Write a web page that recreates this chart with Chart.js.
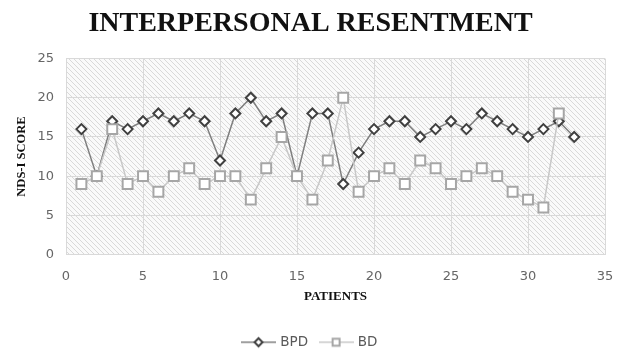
<!DOCTYPE html>
<html>
<head>
<meta charset="utf-8">
<script src="https://cdn.jsdelivr.net/npm/chart.js@4"></script>
<style>
  body { margin: 0; background: #fff; }
</style>
</head>
<body>
<canvas id="chart" width="621" height="351"></canvas>
<script>
// data
const patientsBPD = [1, 2, 3, 4, 5, 6, 7, 8, 9, 10, 11, 12, 13, 14, 15, 16, 17, 18, 19, 20, 21, 22, 23, 24, 25, 26, 27, 28, 29, 30, 31, 32, 33];
const bpdScores = [16, 10, 17, 16, 17, 18, 17, 18, 17, 12, 18, 20, 17, 18, 10, 18, 18, 9, 13, 16, 17, 17, 15, 16, 17, 16, 18, 17, 16, 15, 16, 17, 15];
const patientsBD = [1, 2, 3, 4, 5, 6, 7, 8, 9, 10, 11, 12, 13, 14, 15, 16, 17, 18, 19, 20, 21, 22, 23, 24, 25, 26, 27, 28, 29, 30, 31, 32];
const bdScores = [9, 10, 16, 9, 10, 8, 10, 11, 9, 10, 10, 7, 11, 15, 10, 7, 12, 20, 8, 10, 11, 9, 12, 11, 9, 10, 11, 10, 8, 7, 6, 18];
const xTicks = [0, 5, 10, 15, 20, 25, 30, 35];
const yTicks = [0, 5, 10, 15, 20, 25];

const serif = "'Liberation Serif', 'Times New Roman', serif";
const sans = "'DejaVu Sans', sans-serif";

// diagonal hatch for plot background
function makeHatch() {
    const c = document.createElement('canvas');
    c.width = 5; c.height = 5;
    const g = c.getContext('2d');
    g.fillStyle = '#fafafa';
    g.fillRect(0, 0, 5, 5);
    g.strokeStyle = '#d9d9d9';
    g.lineWidth = 1;
    g.beginPath();
    g.moveTo(-1, -1); g.lineTo(6, 6);
    g.moveTo(-1, 4); g.lineTo(1, 6);
    g.moveTo(4, -1); g.lineTo(6, 1);
    g.stroke();
    return c;
}

// legend symbol: short line with the marker on it
function legendIcon(kind, lineColor, markColor) {
    const c = document.createElement('canvas');
    c.width = 35; c.height = 14;
    const g = c.getContext('2d');
    g.strokeStyle = lineColor;
    g.lineWidth = 1.5;
    g.beginPath(); g.moveTo(0, 7); g.lineTo(35, 7); g.stroke();
    g.fillStyle = '#fff';
    g.strokeStyle = markColor;
    g.lineWidth = 2;
    g.beginPath();
    if (kind === 'diamond') {
        g.moveTo(17.5, 3); g.lineTo(21.5, 7); g.lineTo(17.5, 11); g.lineTo(13.5, 7); g.closePath();
    } else {
        g.rect(14, 3.5, 7, 7);
    }
    g.fill(); g.stroke();
    return c;
}

const hatchPlugin = {
    id: 'hatch',
    beforeDraw(chart) {
        const a = chart.chartArea;
        const ctx = chart.ctx;
        ctx.save();
        ctx.fillStyle = ctx.createPattern(makeHatch(), 'repeat');
        ctx.fillRect(a.left, a.top, a.right - a.left, a.bottom - a.top);
        ctx.restore();
    }
};

const icons = [
    legendIcon('diamond', '#7f7f7f', '#404040'),
    legendIcon('square', '#c8c8c8', '#a6a6a6')
];

new Chart(document.getElementById('chart'), {
    type: 'line',
    data: {
        datasets: [{
            label: 'BPD',
            data: patientsBPD.map((p, i) => ({ x: p, y: bpdScores[i] })),
            borderColor: '#7f7f7f',
            borderWidth: 1.5,
            pointStyle: 'rectRot',
            pointRadius: 5,
            pointBorderWidth: 2,
            pointBorderColor: '#404040',
            pointBackgroundColor: '#fff',
            tension: 0,
            order: 1
        }, {
            label: 'BD',
            data: patientsBD.map((p, i) => ({ x: p, y: bdScores[i] })),
            borderColor: '#c8c8c8',
            borderWidth: 1.5,
            pointStyle: 'rect',
            pointRadius: 7,
            pointBorderWidth: 2,
            pointBorderColor: '#a6a6a6',
            pointBackgroundColor: '#fff',
            tension: 0,
            order: 0
        }]
    },
    options: {
        responsive: false,
        animation: false,
        layout: { padding: { left: 0, right: 0, top: 0, bottom: -8 } },
        plugins: {
            title: {
                display: true,
                text: 'INTERPERSONAL RESENTMENT',
                color: '#111',
                font: { family: serif, size: 28, weight: 'bold' },
                padding: { top: 7, bottom: 18 }
            },
            legend: {
                position: 'bottom',
                labels: {
                    usePointStyle: true,
                    pointStyleWidth: 30,
                    color: '#595959',
                    font: { family: sans, size: 13.5 },
                    padding: 13,
                    generateLabels(chart) {
                        return chart.data.datasets.map((ds, i) => ({
                            text: ds.label,
                            pointStyle: icons[i],
                            fontColor: '#595959',
                            strokeStyle: 'transparent',
                            fillStyle: 'transparent',
                            lineWidth: 0,
                            datasetIndex: i
                        }));
                    }
                }
            },
            tooltip: { enabled: false }
        },
        scales: {
            x: {
                type: 'linear',
                min: 0,
                max: 35,
                afterBuildTicks(scale) { scale.ticks = xTicks.map(v => ({ value: v })); },
                afterFit(scale) { scale.height = 68; scale.paddingRight = 16; },
                grid: { color: '#d9d9d9', drawTicks: false },
                border: { color: '#d9d9d9' },
                ticks: { color: '#666', font: { family: sans, size: 13 }, padding: 14 },
                title: {
                    display: true,
                    text: 'PATIENTS',
                    color: '#111',
                    font: { family: serif, size: 13, weight: 'bold' },
                    padding: { top: 8, bottom: 18 }
                }
            },
            y: {
                min: 0,
                max: 25,
                afterBuildTicks(scale) { scale.ticks = yTicks.map(v => ({ value: v })); },
                afterFit(scale) { scale.width = 66; },
                grid: { color: '#d9d9d9', drawTicks: false },
                border: { color: '#d9d9d9' },
                ticks: { color: '#666', font: { family: sans, size: 13 }, padding: 12 },
                title: {
                    display: true,
                    text: 'NDS-I SCORE',
                    color: '#111',
                    font: { family: serif, size: 12.5, weight: 'bold' },
                    padding: { top: 14, bottom: 10 }
                }
            }
        }
    },
    plugins: [hatchPlugin]
});
</script>
</body>
</html>
